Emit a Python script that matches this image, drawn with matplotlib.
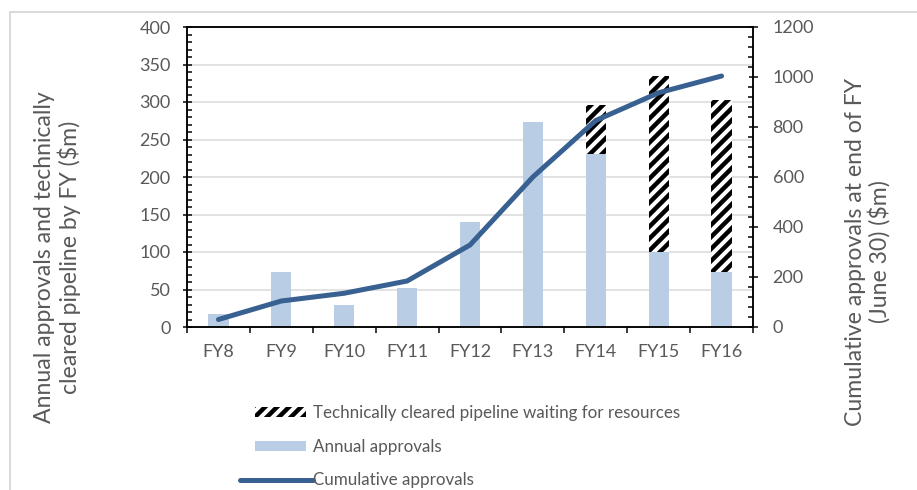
import numpy as np
import matplotlib
matplotlib.use("Agg")
import matplotlib.pyplot as plt
from matplotlib.patches import Patch, Rectangle
from matplotlib.lines import Line2D
from matplotlib.legend_handler import HandlerPatch
from matplotlib.ticker import MultipleLocator, FixedLocator, NullFormatter

# data ($m)
years = ["FY8", "FY9", "FY10", "FY11", "FY12", "FY13", "FY14", "FY15", "FY16"]
annual = [18, 73, 30, 52, 140, 273, 231, 100, 74]
pipeline = [0, 0, 0, 0, 0, 0, 65, 235, 229]
cumulative = [30, 104, 135, 184, 328, 600, 826, 937, 1004]

TEXT = "#595959"
BAR = "#b9cde5"
LINE = "#386192"
GRID = "#d9d9d9"

plt.rcParams["font.family"] = ["Lato", "DejaVu Sans"]
plt.rcParams["hatch.color"] = "black"
plt.rcParams["hatch.linewidth"] = 4.5

W, H, DPI = 917, 490, 72
fig = plt.figure(figsize=(W / DPI, H / DPI), dpi=DPI)

# light frame around the chart area
fig.add_artist(Rectangle((10 / W, -0.1), 1.2, (H - 12) / H + 0.1, transform=fig.transFigure,
                         facecolor="none", edgecolor=GRID, lw=2))

ax = fig.add_axes([187 / W, (H - 327) / H, (753 - 187) / W, 300 / H])
ax2 = ax.twinx()

x = np.arange(len(years))
ax.bar(x, annual, width=0.32, color=BAR, lw=0, zorder=2)
ax.bar(x, pipeline, width=0.32, bottom=annual, facecolor="white", hatch="//", lw=0, zorder=2)
ax2.plot(x, cumulative, color=LINE, lw=5, solid_capstyle="round", solid_joinstyle="round")

ax.set_xlim(-0.5, len(years) - 0.5)
ax.set_ylim(0, 400)
ax2.set_ylim(0, 1200)

ax.yaxis.set_major_locator(MultipleLocator(50))
ax.yaxis.set_minor_locator(MultipleLocator(10))
ax2.yaxis.set_major_locator(MultipleLocator(200))
ax2.yaxis.set_minor_locator(MultipleLocator(40))
ax.grid(axis="y", color=GRID, lw=1.5, zorder=0)
ax.set_axisbelow(True)

# x: ticks at category boundaries, labels centred
ax.xaxis.set_major_locator(FixedLocator(np.arange(len(years) + 1) - 0.5))
ax.xaxis.set_major_formatter(NullFormatter())
ax.xaxis.set_minor_locator(FixedLocator(x))
ax.set_xticklabels(years, minor=True)
ax.tick_params(axis="x", which="major", direction="out", length=6, width=1.5, color="black")
ax.tick_params(axis="x", which="minor", length=0, pad=17, labelsize=18, labelcolor=TEXT)

ax.tick_params(axis="y", which="major", direction="inout", length=9, width=1.5,
               labelsize=18, labelcolor=TEXT, pad=12)
ax.tick_params(axis="y", which="minor", direction="in", length=5, width=1.5)
ax2.tick_params(axis="y", which="major", direction="inout", length=9, width=1.5,
                labelsize=18, labelcolor=TEXT, pad=15)
ax2.tick_params(axis="y", which="minor", direction="in", length=5, width=1.5)

for a in (ax, ax2):
    for s in a.spines.values():
        s.set_color("black")
        s.set_linewidth(1.5)

# axis titles sit lower than the axis centre in the original, so place them directly
fig.text(57.5 / W, (H - 257) / H, "Annual approvals and technically\ncleared pipeline by FY ($m)",
         rotation=90, ha="center", va="center", rotation_mode="anchor",
         fontsize=23, color=TEXT, linespacing=1.1)
fig.text(867.5 / W, (H - 252) / H, "Cumulative approvals at end of FY\n(June 30) ($m)",
         rotation=90, ha="center", va="center", rotation_mode="anchor",
         fontsize=23, color=TEXT, linespacing=1.1)


def narrow_patch(legend, orig_handle, xdescent, ydescent, width, height, fontsize):
    return Rectangle((-xdescent + 15, -ydescent + 1), width - 22, height - 2)


handles = [
    Patch(facecolor="white", hatch="//", lw=0),
    Patch(facecolor=BAR, lw=0),
    Line2D([], [], color=LINE, lw=5, solid_capstyle="round"),
]
labels = ["Technically cleared pipeline waiting for resources",
          "Annual approvals", "Cumulative approvals"]
leg = fig.legend(handles, labels, loc="upper left", bbox_to_anchor=(233 / W, (H - 398) / H),
                 frameon=False, fontsize=17, handlelength=4.3, handleheight=0.7,
                 handletextpad=0.0, labelspacing=1.05, borderaxespad=0, borderpad=0.4,
                 handler_map={Patch: HandlerPatch(patch_func=narrow_patch)})
for t in leg.get_texts():
    t.set_color(TEXT)

fig.savefig("out.png", dpi=DPI)
